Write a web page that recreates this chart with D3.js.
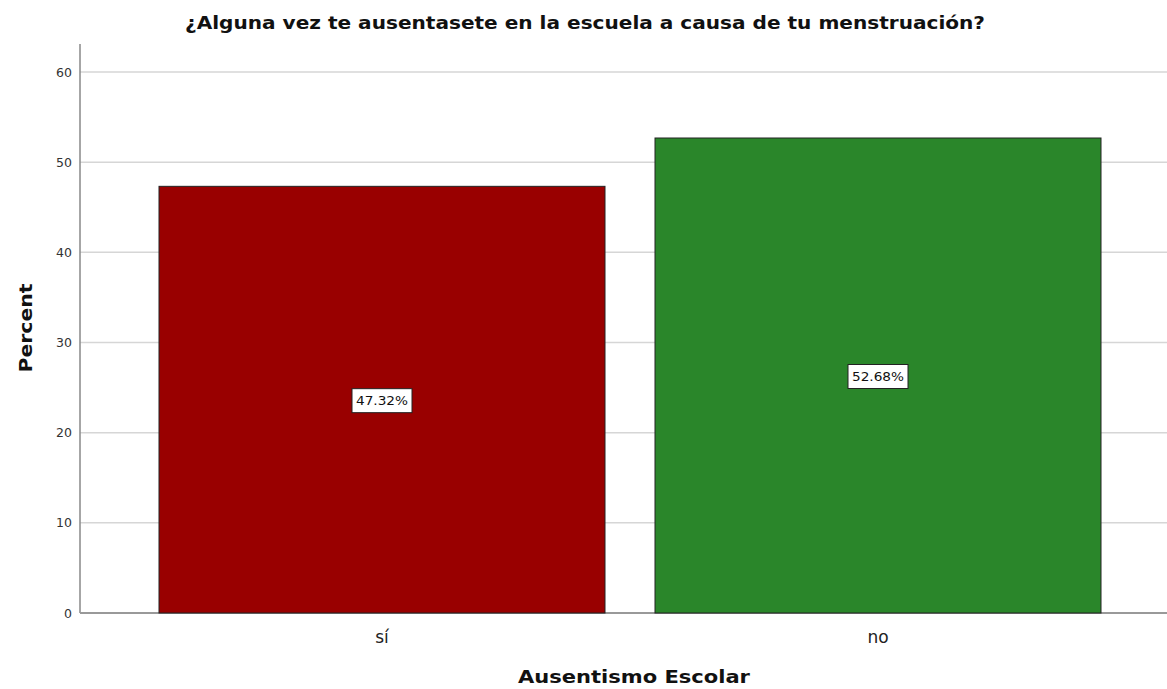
<!DOCTYPE html>
<html><head><meta charset="utf-8">
<script src="https://cdn.jsdelivr.net/npm/d3@7"></script>
<style>body{margin:0;background:#fff}</style>
</head><body>
<script>
const categories = ["sí", "no"];
const values = [47.32, 52.68];
const colors = ["#990000", "#2a862a"];
const yTicks = [0, 10, 20, 30, 40, 50, 60];
const title = "¿Alguna vez te ausentasete en la escuela a causa de tu menstruación?";
const xTitle = "Ausentismo Escolar";
const yTitle = "Percent";

const W = 1167, H = 689;
const svg = d3.select("body").append("svg").attr("width", W).attr("height", H);
const font = "DejaVu Sans";
const mLeft = 80, mRight = 1167, mTop = 44, mBottom = 613;

const y = d3.scaleLinear().domain([0, 60]).range([mBottom, 72]);
const x = d3.scalePoint().domain(categories).range([382, 878]);
const bw = 446;

// grid
svg.append("g").selectAll("line").data(yTicks.filter(d => d > 0)).join("line")
  .attr("x1", mLeft).attr("x2", mRight).attr("y1", d => y(d)).attr("y2", d => y(d))
  .attr("stroke", "#d6d6d6").attr("stroke-width", 1.5);

// y axis
const ya = svg.append("g").attr("transform", `translate(${mLeft},0)`)
  .call(d3.axisLeft(y).tickValues(yTicks).tickSize(0).tickPadding(8));
ya.select(".domain").remove();
ya.selectAll(".tick line").remove();
ya.selectAll("text").attr("font-family", font).attr("font-size", 12.5).attr("fill", "#333");
svg.append("line").attr("x1", mLeft).attr("x2", mLeft).attr("y1", mTop).attr("y2", mBottom)
  .attr("stroke", "#888").attr("stroke-width", 1.5);
svg.append("line").attr("x1", mLeft).attr("x2", mRight).attr("y1", mBottom).attr("y2", mBottom)
  .attr("stroke", "#999").attr("stroke-width", 2);

// bars
svg.append("g").selectAll("rect").data(values).join("rect")
  .attr("x", (d, i) => x(categories[i]) - bw / 2).attr("width", bw)
  .attr("y", d => y(d)).attr("height", d => mBottom - y(d))
  .attr("fill", (d, i) => colors[i]).attr("stroke", "#222").attr("stroke-width", 1);

// labels
const lg = svg.append("g").selectAll("g").data(values).join("g")
  .attr("transform", (d, i) => `translate(${x(categories[i])},${(y(d) + mBottom) / 2 + 1})`);
lg.append("rect").attr("x", -30).attr("y", -12).attr("width", 60).attr("height", 24)
  .attr("fill", "#fff").attr("stroke", "#222").attr("stroke-width", 1);
lg.append("text").attr("text-anchor", "middle").attr("dy", "0.35em")
  .attr("font-family", font).attr("font-size", 13).attr("fill", "#111")
  .attr("textLength", 52).attr("lengthAdjust", "spacingAndGlyphs")
  .text(d => d.toFixed(2) + "%");

// x category labels
svg.append("g").selectAll("text").data(categories).join("text")
  .attr("x", d => x(d)).attr("y", 643).attr("text-anchor", "middle")
  .attr("font-family", font).attr("font-size", 17).attr("fill", "#222").text(d => d);

// titles
svg.append("text").attr("x", 585).attr("y", 29).attr("text-anchor", "middle")
  .attr("font-family", font).attr("font-weight", "bold").attr("font-size", 17).attr("fill", "#111")
  .attr("textLength", 800).attr("lengthAdjust", "spacingAndGlyphs").text(title);
svg.append("text").attr("x", 634).attr("y", 683).attr("text-anchor", "middle")
  .attr("font-family", font).attr("font-weight", "bold").attr("font-size", 18).attr("fill", "#111")
  .attr("textLength", 232).attr("lengthAdjust", "spacingAndGlyphs").text(xTitle);
svg.append("text").attr("transform", "translate(32,328) rotate(-90)").attr("text-anchor", "middle")
  .attr("font-family", font).attr("font-weight", "bold").attr("font-size", 18).attr("fill", "#111")
  .attr("textLength", 89).attr("lengthAdjust", "spacingAndGlyphs").text(yTitle);
</script>
</body></html>
